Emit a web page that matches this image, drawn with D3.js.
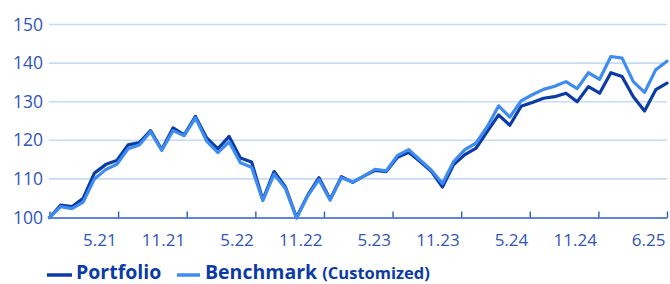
<!DOCTYPE html>
<html>
<head>
<meta charset="utf-8">
<script src="https://cdn.jsdelivr.net/npm/d3@7"></script>
<style>
  html, body { margin: 0; padding: 0; background: #fff; }
  svg { display: block; font-family: "Open Sans", "Noto Sans", sans-serif; }
</style>
</head>
<body>
<div id="chart"></div>
<script>
// monthly index values, rebased to 100
const portfolio = [
  100, 103.2, 102.8, 105, 111.5, 113.7, 114.8, 118.8, 119.4, 122.5,
  117.6, 123.2, 121.4, 126.2, 120.6, 117.8, 121, 115.4, 114.4, 104.6,
  111.9, 108, 100, 105.8, 110.3, 104.7, 110.6, 109.1, 110.7, 112.2,
  111.9, 115.6, 116.9, 114.5, 112, 107.9, 113.7, 116.3, 118, 122.3,
  126.6, 123.9, 128.8, 129.8, 130.9, 131.3, 132.2, 130, 133.9, 132.2,
  137.5, 136.5, 131.3, 127.6, 133.1, 134.8
];
const benchmark = [
  100, 102.8, 102.3, 104, 110, 112.4, 113.8, 117.8, 118.8, 122.2,
  117.4, 122.5, 121.2, 125.8, 119.8, 116.8, 119.6, 114.2, 113, 104.4,
  111.2, 107.6, 99.8, 105.6, 109.8, 104.5, 110.3, 109.2, 110.7, 112.5,
  112.1, 116.1, 117.6, 114.9, 112.3, 108.8, 114.5, 117.6, 119.3, 123.6,
  128.9, 126, 130.2, 131.8, 133.2, 134, 135.2, 133.4, 137.5, 135.8,
  141.7, 141.3, 135.2, 132.4, 138.3, 140.5
];
const xTickLabels = ['5.21', '11.21', '5.22', '11.22', '5.23', '11.23', '5.24', '11.24', '6.25'];
const yTicks = [100, 110, 120, 130, 140, 150];
const seriesNames = ['Portfolio', 'Benchmark'];

const W = 670, H = 284;
const margin = { top: 24.5, right: 3, bottom: 66.5, left: 49 };
const colors = { Portfolio: '#0b3ca6', Benchmark: '#3f8cf0' };

const svg = d3.select('#chart').append('svg')
  .attr('width', W)
  .attr('height', H)
  .attr('viewBox', `0 0 ${W} ${H}`);

const x = d3.scaleLinear()
  .domain([0, xTickLabels.length])
  .range([margin.left + 0.5, W - margin.right]);
const y = d3.scaleLinear()
  .domain([100, 150])
  .range([H - margin.bottom, margin.top]);

// data index -> axis units (the axis is split into equal label slots)
const step = xTickLabels.length / (portfolio.length - 1);

// grid lines
svg.append('g')
  .selectAll('line')
  .data(yTicks.filter(d => d > 100))
  .join('line')
  .attr('x1', margin.left)
  .attr('x2', W - margin.right)
  .attr('y1', d => y(d))
  .attr('y2', d => y(d))
  .attr('stroke', '#c3dbf7')
  .attr('stroke-width', 1.6);

// y labels
const yAxis = svg.append('g')
  .attr('transform', `translate(${margin.left - 6},0)`)
  .call(d3.axisLeft(y).tickValues(yTicks).tickSize(0).tickPadding(0));
yAxis.select('.domain').remove();
yAxis.selectAll('text')
  .attr('fill', '#2f55b8')
  .attr('font-size', 17.5)
  .attr('font-family', '"Open Sans", sans-serif');

// x axis, ticks point up into the plot
const xAxis = svg.append('g')
  .attr('transform', `translate(0,${y(100)})`)
  .call(d3.axisBottom(x)
    .tickValues(d3.range(0, xTickLabels.length + 1))
    .tickFormat(d => d === 0 ? '' : xTickLabels[d - 1])
    .tickSize(-6)
    .tickSizeOuter(0)
    .tickPadding(16));
xAxis.select('.domain')
  .attr('stroke', '#2a5cc4')
  .attr('stroke-width', 1.6);
xAxis.selectAll('.tick line')
  .attr('stroke', '#2a5cc4')
  .attr('stroke-width', 1.4);
xAxis.selectAll('.tick text')
  .attr('fill', '#2f55b8')
  .attr('font-size', 17)
  .attr('font-family', '"Open Sans", sans-serif')
  .attr('text-anchor', 'end')
  .attr('dx', -2);

// lines
const line = d3.line()
  .x((d, i) => x(i * step))
  .y(d => y(d));

[portfolio, benchmark].forEach((series, k) => {
  svg.append('path')
    .datum(series)
    .attr('fill', 'none')
    .attr('stroke', colors[seriesNames[k]])
    .attr('stroke-width', 3.2)
    .attr('stroke-linejoin', 'round')
    .attr('stroke-linecap', 'round')
    .attr('d', line);
});

// legend
const legend = svg.append('g')
  .attr('transform', `translate(47,${H - 5.5})`)
  .attr('font-family', '"Open Sans", sans-serif')
  .attr('font-weight', 700)
  .attr('fill', '#0b3ca6');

const lg1 = legend.append('g');
lg1.append('line')
  .attr('x1', 0).attr('x2', 25)
  .attr('y1', -3.5).attr('y2', -3.5)
  .attr('stroke', colors.Portfolio)
  .attr('stroke-width', 3.5);
lg1.append('text')
  .attr('x', 29)
  .attr('y', 0)
  .attr('font-size', 19.5)
  .text('Portfolio');

const lg2 = legend.append('g').attr('transform', 'translate(130,0)');
lg2.append('line')
  .attr('x1', 0).attr('x2', 23)
  .attr('y1', -3.5).attr('y2', -3.5)
  .attr('stroke', colors.Benchmark)
  .attr('stroke-width', 3.5);
const t2 = lg2.append('text')
  .attr('x', 28)
  .attr('y', 0)
  .attr('font-size', 19.5);
t2.append('tspan').text('Benchmark ');
t2.append('tspan').attr('font-size', 16.5).text('(Customized)');
</script>
</body>
</html>
